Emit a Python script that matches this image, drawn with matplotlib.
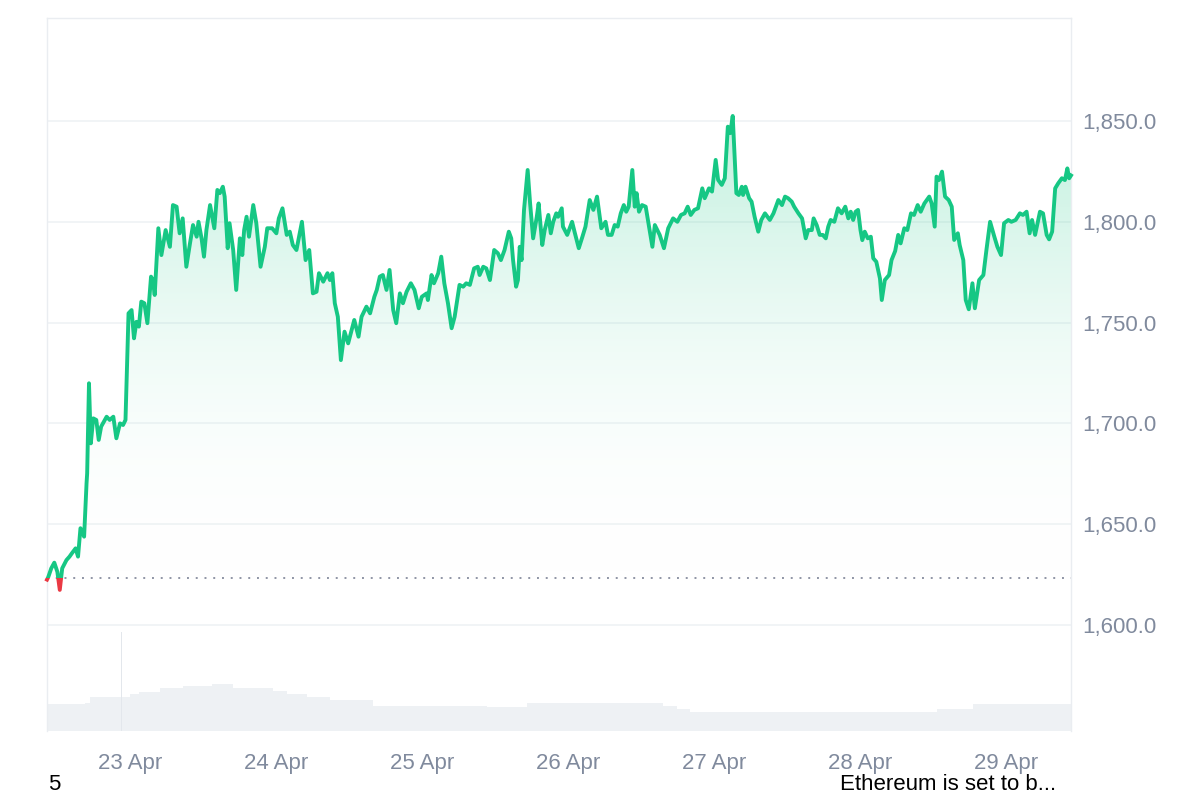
import matplotlib
matplotlib.use("Agg")
import matplotlib.pyplot as plt
import matplotlib.dates as mdates
import numpy as np
from matplotlib.colors import LinearSegmentedColormap
from matplotlib.patches import Rectangle
from matplotlib.ticker import FuncFormatter

plt.rcParams['font.family'] = ['Liberation Sans', 'DejaVu Sans']

# price, hours relative to 23 Apr 00:00
hours = [-13.6, -13.4, -12.9, -12.4, -11.9, -11.5, -11.1, -10.4, -9.9, -9.5,
         -8.9, -8.5, -8.1, -7.5, -7.1, -7.0, -6.7, -6.4, -6.0, -5.5,
         -5.1, -4.7, -3.8, -3.3, -2.7, -2.2, -1.6, -1.1, -0.7, -0.2,
         # 23 Apr
         0.3, 0.7, 1.1, 1.5, 1.9, 2.4, 2.9, 3.5, 3.8, 4.1,
         4.7, 5.2, 5.9, 6.6, 7.1, 7.7, 8.2, 8.7, 9.3, 9.9,
         10.4, 11.0, 11.3, 11.8, 12.2, 12.6, 13.2, 13.9, 14.4, 14.8,
         15.3, 15.6, 16.1, 16.4, 17.0, 17.5, 18.1, 18.5, 18.8, 19.2,
         19.6, 20.3, 20.8, 21.5, 22.2, 22.6, 23.4,
         # 24 Apr
         24.1, 24.5, 25.1, 25.8, 26.3, 26.8, 27.4, 28.3, 28.9, 29.5,
         30.1, 30.7, 31.1, 31.8, 32.5, 32.9, 33.3, 33.7, 34.2, 34.7,
         35.3, 35.9, 36.9, 37.6, 38.1, 38.9, 39.5, 40.2, 40.6, 41.1,
         41.6, 42.2, 42.7, 43.3, 43.8, 44.4, 44.9, 45.5, 46.2, 46.8, 47.5,
         # 25 Apr
         48.0, 48.8, 49.0, 49.6, 50.0, 50.7, 51.2, 51.7, 52.3, 52.9,
         53.4, 54.2, 54.8, 55.3, 55.9, 56.6, 57.2, 57.5, 58.1, 58.6,
         59.2, 59.9, 60.5, 61.0, 61.6, 62.3, 62.7, 63.0, 63.5, 63.8,
         64.1, 64.4, 64.8, 65.4, 65.8, 66.3, 66.9, 67.2, 67.8, 68.2,
         68.8, 69.2, 69.6, 70.1, 70.4, 71.0, 71.2, 71.9,
         # 26 Apr
         72.7, 73.1, 73.8, 74.4, 74.9, 75.6, 76.2, 76.8, 77.5, 78.2,
         78.6, 79.2, 79.7, 80.2, 80.7, 81.2, 81.6, 82.0, 82.6, 83.0,
         83.3, 83.7, 84.2, 84.8, 85.3, 85.9, 86.3, 87.1, 87.8, 88.5,
         89.3, 90.0, 90.6, 91.2, 91.7, 92.2, 92.8, 93.4, 94.1, 94.5,
         95.2, 95.7,
         # 27 Apr
         96.3, 96.7, 97.3, 97.8, 98.3, 98.7, 99.1, 99.7, 100.1, 100.6,
         100.8, 101.2, 101.8, 102.2, 102.7, 103.3, 103.8, 104.4, 105.2, 105.8,
         106.6, 107.2, 107.7, 108.2, 108.8, 109.2, 109.9, 110.5, 111.1, 111.5,
         112.1, 112.4, 112.9, 113.4, 113.9, 114.4, 114.8, 115.2, 115.8, 116.4,
         117.0, 117.6, 118.1, 118.5, 118.9, 119.3, 119.7,
         # 28 Apr
         120.1, 120.4, 120.8, 121.3, 121.8, 122.2, 122.7, 123.3, 123.6, 124.1,
         124.8, 125.2, 125.8, 126.3, 126.7, 127.3, 127.8, 128.4, 128.9, 129.5,
         130.0, 130.6, 131.4, 131.8, 132.3, 132.6, 133.0, 133.5, 134.0, 134.6,
         135.1, 135.5, 136.1, 136.4, 137.0, 137.4, 137.9, 138.5, 138.9, 139.6,
         140.3, 140.8, 141.4, 142.1, 142.6, 143.2,
         # 29 Apr
         143.7, 144.4, 144.9, 145.6, 146.3, 146.8, 147.4, 147.9, 148.3, 148.8,
         149.6, 150.1, 150.7, 151.1, 151.6, 152.1, 152.6, 153.2, 153.7, 154.1,
         154.4, 154.7]

prices = [1622.5, 1623.7, 1628.1, 1630.9, 1626.4, 1617.4, 1628.1, 1632.2, 1633.9, 1635.6,
          1638.0, 1633.9, 1648.0, 1643.8, 1670.3, 1675.2, 1719.9, 1690.1, 1702.5, 1701.7,
          1691.8, 1698.4, 1703.3, 1701.7, 1703.3, 1692.6, 1700.0, 1699.2, 1701.7, 1754.6,
          # 23 Apr
          1756.2, 1742.2, 1750.4, 1748.0, 1760.4, 1759.6, 1749.7, 1772.8, 1771.1, 1763.7,
          1796.8, 1783.5, 1795.9, 1787.6, 1808.3, 1807.5, 1794.3, 1801.7, 1777.7, 1789.3,
          1798.4, 1792.6, 1800.0, 1791.8, 1782.7, 1795.9, 1808.3, 1796.8, 1815.8, 1814.2,
          1817.4, 1812.5, 1786.9, 1799.3, 1786.0, 1766.2, 1791.8, 1783.5, 1795.9, 1802.5,
          1792.6, 1808.3, 1799.3, 1777.7, 1787.6, 1796.8, 1796.8,
          # 24 Apr
          1794.3, 1801.7, 1806.7, 1793.5, 1795.1, 1788.5, 1786.0, 1800.0, 1781.0, 1786.0,
          1764.5, 1765.3, 1774.5, 1770.3, 1774.5, 1771.1, 1774.5, 1759.6, 1752.9, 1731.4,
          1745.5, 1739.7, 1751.3, 1743.0, 1752.9, 1757.9, 1754.6, 1762.8, 1766.2, 1772.8,
          1773.6, 1766.2, 1776.1, 1756.2, 1749.7, 1764.5, 1759.6, 1765.3, 1769.5, 1766.2, 1757.1,
          # 25 Apr
          1762.8, 1764.5, 1761.2, 1773.6, 1769.5, 1774.5, 1782.7, 1769.5, 1759.6, 1747.2,
          1752.9, 1768.7, 1767.8, 1769.5, 1768.7, 1776.9, 1777.7, 1773.6, 1777.7, 1776.9,
          1771.1, 1786.0, 1784.4, 1781.0, 1786.0, 1795.1, 1791.8, 1781.0, 1767.8, 1771.1,
          1787.6, 1781.0, 1805.9, 1825.7, 1809.1, 1791.8, 1802.5, 1809.1, 1788.5, 1795.9,
          1803.4, 1794.3, 1800.0, 1804.2, 1802.5, 1806.7, 1797.6, 1793.5,
          # 26 Apr
          1800.0, 1795.1, 1786.9, 1792.6, 1797.6, 1810.8, 1805.9, 1812.5, 1796.8, 1800.0,
          1793.5, 1793.5, 1798.4, 1797.6, 1804.2, 1808.3, 1805.0, 1807.5, 1825.7, 1807.5,
          1814.2, 1805.0, 1808.3, 1807.5, 1798.4, 1787.6, 1798.4, 1793.5, 1786.9, 1796.8,
          1801.7, 1800.0, 1803.4, 1804.2, 1807.5, 1803.4, 1805.9, 1806.7, 1816.6, 1811.7,
          1816.6, 1815.0,
          # 27 Apr
          1830.7, 1820.8, 1818.3, 1821.6, 1847.2, 1844.0, 1852.5, 1814.2, 1813.3, 1817.4,
          1813.3, 1817.4, 1811.7, 1810.0, 1802.5, 1795.1, 1800.9, 1804.2, 1800.9, 1804.2,
          1810.8, 1808.3, 1812.5, 1811.7, 1810.0, 1807.5, 1804.2, 1801.7, 1791.8, 1795.9,
          1795.9, 1801.7, 1798.4, 1793.5, 1793.5, 1791.8, 1797.6, 1800.9, 1800.0, 1806.7,
          1804.2, 1807.5, 1801.7, 1805.0, 1800.9, 1805.0, 1805.9,
          # 28 Apr
          1795.9, 1790.9, 1795.1, 1791.8, 1792.6, 1781.9, 1780.2, 1771.9, 1761.2, 1771.1,
          1773.6, 1781.0, 1785.5, 1793.5, 1789.3, 1796.8, 1795.9, 1804.2, 1803.4, 1808.3,
          1805.0, 1809.1, 1812.5, 1809.1, 1797.6, 1822.4, 1820.7, 1824.9, 1812.5, 1810.8,
          1807.5, 1791.0, 1794.3, 1788.5, 1781.0, 1761.2, 1756.6, 1769.5, 1757.1, 1771.1,
          1773.6, 1786.0, 1800.0, 1792.6, 1787.6, 1783.5,
          # 29 Apr
          1799.3, 1800.9, 1800.0, 1800.9, 1804.2, 1803.4, 1805.0, 1794.3, 1800.9, 1793.5,
          1805.0, 1804.2, 1793.5, 1791.3, 1795.1, 1816.6, 1819.1, 1821.6, 1820.7, 1826.5,
          1821.6, 1823.0]

assert len(hours) == len(prices)

open_price = 1623.3

# volume (relative units), step levels starting at given hour
vol_hours = [-13.6, -7.4, -6.6, 0.0, 1.6, 4.9, 8.7, 13.6, 16.9, 23.5, 25.8,
             29.1, 32.9, 39.9, 58.7, 65.3, 87.6, 89.9, 92.1, 132.7, 138.6, 154.7]
vol_levels = [2.67, 2.83, 3.35, 3.7, 3.93, 4.27, 4.5, 4.7, 4.33, 4.03, 3.7,
              3.37, 3.1, 2.45, 2.37, 2.77, 2.5, 2.17, 1.88, 2.17, 2.7, 2.7]
spike_hour = -1.4
spike_level = 9.87

date0 = np.datetime64('2023-04-23T00:00')
t = date0 + (np.array(hours) * 60).round().astype('timedelta64[m]')
tv = date0 + (np.array(vol_hours) * 60).round().astype('timedelta64[m]')
ts = date0 + np.timedelta64(int(spike_hour * 60), 'm')
p = np.array(prices)

green = '#16c784'
red = '#ea3943'
grey_txt = '#808a9d'
grid_c = '#eff2f5'

fig = plt.figure(figsize=(12, 8), dpi=100)
pos = [47 / 1200, 1 - 731 / 800, (1071 - 47) / 1200, (731 - 18) / 800]

# volume panel behind
axv = fig.add_axes(pos, zorder=0)
axv.fill_between(tv, vol_levels, step='post', color='#eef1f4', lw=0)
axv.bar([ts], [spike_level], width=0.004, color='#e3e7ec', lw=0)
axv.set_ylim(0, 71.3)
axv.set_xlim(t[0], t[-1])
axv.axis('off')

ax = fig.add_axes(pos, zorder=1)
ax.patch.set_alpha(0)
xmin, xmax = mdates.date2num(t[0]), mdates.date2num(t[-1])
ax.set_xlim(xmin, xmax)
ax.set_ylim(1547.4, 1901.1)

# gradient fill under line (clip to the whole area between line and open)
poly = ax.fill_between(t, p, open_price, color='none', lw=0)
cmap = LinearSegmentedColormap.from_list(
    'g', [(1, 1, 1, 0), (22 / 255, 199 / 255, 132 / 255, 0.27)])
grad = np.linspace(0, 1, 256).reshape(-1, 1)
im = ax.imshow(grad, extent=[xmin, xmax, open_price, 1850], origin='lower',
               aspect='auto', cmap=cmap, zorder=1, interpolation='bilinear')
clip = poly.get_paths()[0]
im.set_clip_path(clip, transform=ax.transData)
ax.fill_between(t, p, open_price, where=p < open_price, interpolate=True,
                color=red, alpha=0.12, lw=0, zorder=1)

# dotted open line
ax.axhline(open_price, color='#8f95a5', lw=1.4, ls=(0, (1, 3.5)), zorder=2)

# price line: green above open, red below
lg, = ax.plot(t, p, color=green, lw=2.8, zorder=3, solid_joinstyle='round')
lr, = ax.plot(t, p, color=red, lw=2.8, zorder=3, solid_joinstyle='round')
lg.set_clip_path(Rectangle((xmin - 1, open_price), 20, 500, transform=ax.transData))
lr.set_clip_path(Rectangle((xmin - 1, open_price - 500), 20, 500, transform=ax.transData))

# axes styling
ax.set_yticks([1600, 1650, 1700, 1750, 1800, 1850])
ax.yaxis.set_major_formatter(FuncFormatter(lambda v, _: f"{v:,.1f}"))
ax.yaxis.tick_right()
ax.grid(axis='y', color=grid_c, lw=1.2)
ax.set_axisbelow(True)
ax.xaxis.set_major_locator(mdates.DayLocator())
ax.xaxis.set_major_formatter(mdates.DateFormatter('%d Apr'))
ax.tick_params(axis='y', length=0, pad=8, labelsize=16, labelcolor=grey_txt)
ax.tick_params(axis='x', length=0, pad=16, labelsize=16, labelcolor=grey_txt)
for side in ['left', 'right', 'top']:
    ax.spines[side].set_color('#eaedf1')
    ax.spines[side].set_linewidth(1)
ax.spines['bottom'].set_visible(False)

fig.text(48 / 1200, 1 - 785 / 800, '5', fontsize=16, color='black',
         ha='left', va='center')
fig.text(840 / 1200, 1 - 785 / 800, 'Ethereum is set to b...', fontsize=16,
         color='black', ha='left', va='center')

fig.savefig('out.png', dpi=100)
